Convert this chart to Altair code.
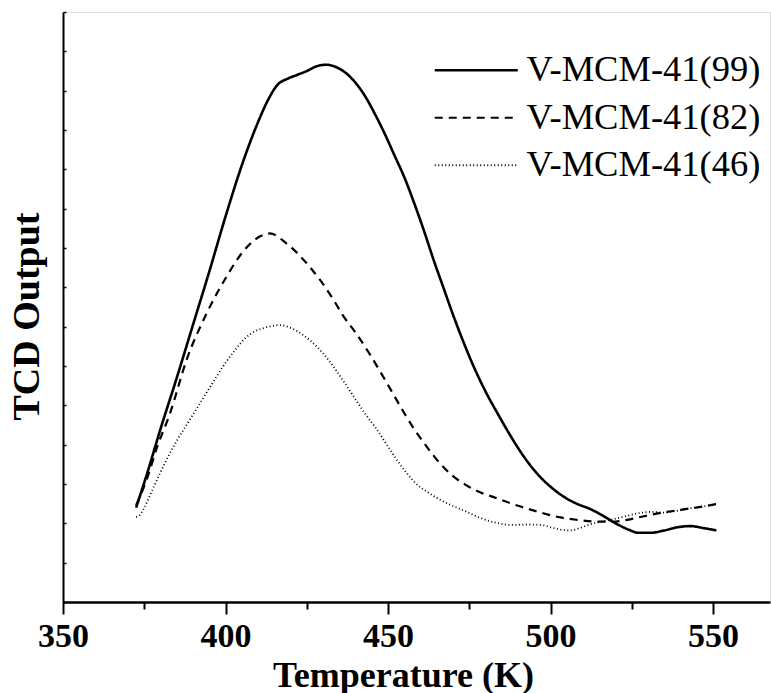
import altair as alt
import pandas as pd

# ---- data ----
s99_T = [372.5, 376, 380, 385, 390, 395, 400, 405, 410, 413, 416, 419, 422, 425, 428, 431,
         434, 437, 440, 443, 446, 449, 452, 455, 458, 461, 464, 467, 470, 473, 476, 480,
         484, 488, 492, 496, 500, 504, 508, 512, 516, 520, 524, 527, 531, 535, 539, 543,
         547, 551]
s99_v = [2.4, 3.3, 4.4, 5.7, 7.05, 8.4, 9.8, 11.1, 12.2, 12.75, 13.15, 13.3, 13.4, 13.5, 13.62, 13.66,
         13.6, 13.45, 13.2, 12.85, 12.4, 11.9, 11.35, 10.8, 10.15, 9.45, 8.7, 8.0, 7.3, 6.65, 6.05, 5.35,
         4.75, 4.18, 3.67, 3.25, 2.93, 2.68, 2.5, 2.37, 2.2, 2.0, 1.84, 1.76, 1.76, 1.82, 1.9, 1.93,
         1.88, 1.82]

s82_T = [372.5, 375.7, 379, 382.9, 388, 394.2, 400.3, 405.4, 410.5, 413.6, 418.7, 425.9, 433.1,
         436, 440, 444, 448, 451.5, 455, 458, 461, 464, 467, 470, 474, 478, 483, 488, 493, 498,
         503, 508, 513, 519, 523, 527, 531, 535, 539, 543, 547, 551]
s82_v = [2.46, 3.1, 3.95, 4.79, 6.15, 7.34, 8.27, 8.91, 9.29, 9.37, 9.12, 8.52, 7.7,
         7.3, 6.85, 6.35, 5.8, 5.3, 4.8, 4.4, 4.05, 3.72, 3.43, 3.2, 2.97, 2.8, 2.65, 2.5, 2.37, 2.25,
         2.15, 2.09, 2.05, 2.04, 2.08, 2.15, 2.22, 2.28, 2.33, 2.38, 2.43, 2.49]

s46_T = [372.5, 373.7, 375, 377.5, 380, 382.5, 385, 388, 391, 394, 397, 400, 403.4, 406, 409,
         412.5, 416.7, 420, 424, 428, 432, 436, 440, 443, 446, 450, 453, 456, 459, 462, 466,
         470, 474, 478, 483, 488, 493, 497, 500, 503, 506, 509, 512, 516, 520, 524, 528, 531,
         535, 539, 543, 547, 551]
s46_v = [2.16, 2.22, 2.4, 2.85, 3.3, 3.72, 4.1, 4.5, 4.9, 5.3, 5.7, 6.08, 6.45, 6.7, 6.88,
         6.98, 7.04, 6.97, 6.78, 6.5, 6.12, 5.65, 5.15, 4.78, 4.45, 3.95, 3.58, 3.25, 2.98, 2.8, 2.6,
         2.44, 2.3, 2.15, 2.02, 1.96, 1.97, 1.96, 1.9, 1.84, 1.82, 1.88, 1.97, 2.05, 2.12, 2.2, 2.27, 2.29,
         2.27, 2.32, 2.38, 2.43, 2.49]

series_names = ["V-MCM-41(99)", "V-MCM-41(82)", "V-MCM-41(46)"]
x_major = [350, 400, 450, 500, 550]
x_minor = [375, 425, 475, 525]
y_ticks = list(range(0, 16))

rows = []
for name, T, v in zip(series_names, [s99_T, s82_T, s46_T], [s99_v, s82_v, s46_v]):
    for t, val in zip(T, v):
        rows.append({"T": t, "v": val, "s": name})
df = pd.DataFrame(rows)

FONT = "Liberation Serif"
W, H = 707, 590

xscale = alt.Scale(domain=[350, 567.5], nice=False, zero=False)
yscale = alt.Scale(domain=[0, 15], nice=False)

lines = alt.Chart(df).mark_line(interpolate="monotone", color="black").encode(
    x=alt.X("T:Q", scale=xscale, axis=alt.Axis(
        values=x_major, tickSize=12, tickWidth=2, tickColor="black",
        domainColor="black", domainWidth=2.5, grid=False,
        labelFont=FONT, labelFontSize=34, labelFontWeight="bold", labelColor="black",
        labelPadding=5, labelFlush=False,
        title="Temperature (K)", titleFont=FONT, titleFontSize=36, titleFontWeight="bold",
        titleColor="black", titleX=340, titleY=84, titleBaseline="alphabetic")),
    y=alt.Y("v:Q", scale=yscale, axis=alt.Axis(
        ticks=False, labels=False, grid=False, domainColor="black", domainWidth=2,
        title="TCD Output", titleFont=FONT, titleFontSize=38, titleFontWeight="bold",
        titleColor="black", titleX=-25, titleY=304, titleBaseline="alphabetic", titleAngle=-90)),
    strokeDash=alt.StrokeDash("s:N", scale=alt.Scale(domain=series_names,
                              range=[[1, 0], [8, 6], [1, 2.5]]),
                              legend=alt.Legend(
                                  title=None, orient="none", legendX=395, legendY=40,
                                  symbolType="M -3 0 L 3 0", symbolSize=766,
                                  symbolStrokeColor="black",
                                  symbolStrokeWidth=2, labelFont=FONT, labelFontSize=36.5,
                                  labelColor="black", labelOffset=32, labelLimit=0,
                                  rowPadding=10.5, padding=0)),
    strokeWidth=alt.StrokeWidth("s:N", scale=alt.Scale(domain=series_names, range=[2.6, 1.8, 1.3]),
                                legend=None),
)

minor = alt.Chart(df).mark_point(opacity=0).encode(
    x=alt.X("T:Q", scale=xscale, axis=alt.Axis(
        orient="bottom", values=x_minor, tickSize=7, tickWidth=2, tickColor="black", domain=False,
        labels=False, grid=False, title=None)),
    y=alt.Y("v:Q", scale=yscale, axis=alt.Axis(
        orient="right", offset=-W, values=y_ticks, tickSize=3, tickWidth=1.5,
        tickColor="black", domain=False, labels=False, grid=False, title=None)),
)

chart = alt.layer(lines, minor).resolve_axis(x="independent", y="independent").properties(
    width=W, height=H,
    autosize=alt.AutoSizeParams(type="none"),
    padding={"left": 63, "top": 12, "right": 1, "bottom": 91},
).configure_view(stroke=None).configure(background="white")

chart.save("out.html", embed_options={"renderer": "svg", "actions": False})
